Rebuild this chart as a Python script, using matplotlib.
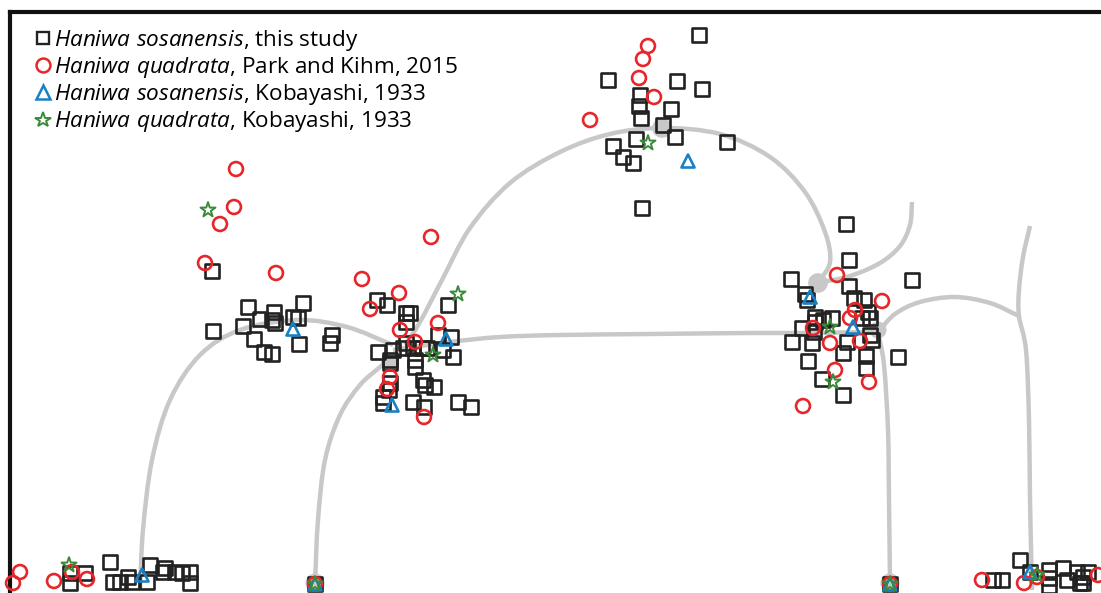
import matplotlib
matplotlib.use("Agg")
import numpy as np
import matplotlib.pyplot as plt
from matplotlib.lines import Line2D
from matplotlib.path import Path
from matplotlib.patches import PathPatch

plt.rcParams['mathtext.fontset'] = 'custom'
plt.rcParams['mathtext.rm'] = 'Open Sans'
plt.rcParams['mathtext.it'] = 'Open Sans:italic'
plt.rcParams['font.family'] = ['Open Sans', 'DejaVu Sans']

# ---- specimens (morphospace coordinates) ----
sq_x = [699, 608, 677, 702, 640, 639, 641, 671, 663, 675, 636, 613, 623, 633, 727, 642,
        212, 248, 274, 303, 260, 275, 272, 293, 298, 213, 243, 254, 264, 272, 299, 332, 330,
        377, 387, 406, 410, 406, 448, 438, 451, 378, 393, 403, 406, 413, 422, 427, 443, 453,
        390, 390, 415, 415, 390, 389, 383, 423, 425, 434, 413, 424, 458, 471, 383,
        846, 849, 791, 849, 912, 805, 807, 854, 864, 868, 815, 815, 832, 823, 862, 870, 802,
        814, 792, 812, 847, 870, 872, 843, 866, 866, 898, 808, 822, 843,
        70, 70, 85, 110, 113, 120, 128, 132, 150, 147, 165, 163, 175, 182, 190, 190,
        315, 890,
        993, 1002, 1020, 1030, 1049, 1049, 1049, 1063, 1067, 1077, 1083, 1088, 1083, 1080]
sq_y = [35, 80, 81, 89, 95, 106, 118, 109, 125, 137, 139, 146, 157, 163, 142, 208,
        271, 307, 312, 303, 319, 323, 320, 317, 318, 331, 326, 339, 352, 354, 344, 335, 343,
        300, 305, 313, 313, 322, 305, 335, 337, 352, 350, 348, 343, 348, 348, 348, 350, 357,
        360, 363, 360, 367, 383, 390, 397, 380, 385, 387, 402, 407, 402, 407, 403,
        224, 260, 279, 286, 280, 294, 300, 298, 300, 312, 317, 322, 318, 320, 318, 318, 328,
        332, 342, 343, 342, 335, 340, 353, 356, 368, 357, 361, 379, 395,
        583, 573, 573, 562, 582, 582, 577, 582, 565, 582, 568, 572, 572, 573, 572, 583,
        584, 584,
        580, 580, 560, 572, 570, 578, 586, 568, 580, 572, 577, 572, 583, 583]

ci_x = [648, 643, 639, 654, 590,
        236, 234, 220, 205, 276,
        431, 362, 399, 370, 438, 400, 415, 390, 387, 424,
        837, 882, 855, 850, 813, 830, 860, 835, 869, 803,
        20, 13, 54, 72, 87, 315, 890, 982, 1024, 1037, 1098]
ci_y = [46, 59, 78, 97, 120,
        169, 207, 224, 263, 273,
        237, 279, 293, 309, 323, 330, 342, 377, 389, 417,
        275, 301, 310, 318, 328, 343, 341, 370, 382, 406,
        572, 583, 581, 572, 579, 584, 584, 580, 583, 577, 575]

tr_x = [688, 293, 446, 392, 810, 853, 142, 315, 890, 1030]
tr_y = [161, 329, 339, 405, 297, 327, 575, 584, 584, 572]

st_x = [648, 208, 458, 433, 830, 833, 69, 1037, 315, 890]
st_y = [143, 210, 294, 355, 327, 382, 565, 575, 584, 584]

# ---- tree branches (gray) ----
branches = [
    [(140, 590), (143, 530), (152, 460), (170, 400), (200, 355), (240, 330), (297, 320),
     (347, 327), (393, 345)],
    [(315, 583), (318, 520), (325, 460), (340, 415), (360, 385), (380, 367), (393, 355)],
    [(405, 345), (420, 322), (442, 280), (470, 228), (510, 183), (560, 152), (610, 134),
     (662, 128), (720, 134), (770, 157), (805, 192), (825, 232), (830, 262), (818, 283)],
    [(393, 350), (450, 342), (500, 337), (560, 335), (650, 334), (750, 333), (800, 333), (878, 332)],
    [(878, 332), (884, 365), (888, 430), (889, 500), (890, 583)],
    [(818, 283), (850, 276), (880, 263), (900, 246), (910, 225), (912, 202)],
    [(878, 332), (895, 314), (920, 302), (955, 297), (990, 303), (1019, 316)],
    [(1030, 226), (1023, 257), (1019, 290), (1019, 316), (1026, 350), (1029, 420),
     (1030, 500), (1032, 590)],
]
node_x = [390, 662, 818, 878, 315, 890]
node_y = [362, 128, 283, 330, 583, 583]
node_s = [160, 200, 200, 150, 190, 190]

labels = [r"$\it{Haniwa\ sosanensis}$, this study",
          r"$\it{Haniwa\ quadrata}$, Park and Kihm, 2015",
          r"$\it{Haniwa\ sosanensis}$, Kobayashi, 1933",
          r"$\it{Haniwa\ quadrata}$, Kobayashi, 1933"]

SQ_C, CI_C, TR_C, ST_C = '#222222', '#e8262a', '#1a80c4', '#3a8a3a'
GRAY = '#c8c8c8'


def smooth_path(pts):
    """Catmull-Rom curve through the given points expressed as cubic Bezier segments."""
    p = np.asarray(pts, float)
    ext = np.vstack([2 * p[0] - p[1], p, 2 * p[-1] - p[-2]])
    verts = [p[0]]
    codes = [Path.MOVETO]
    for i in range(1, len(ext) - 2):
        p0, p1, p2, p3 = ext[i - 1], ext[i], ext[i + 1], ext[i + 2]
        c1 = p1 + (p2 - p0) / 6.0
        c2 = p2 - (p3 - p1) / 6.0
        verts += [c1, c2, p2]
        codes += [Path.CURVE4] * 3
    return Path(verts, codes)


W, H = 1101, 593
fig = plt.figure(figsize=(W / 100, H / 100), dpi=100)
ax = fig.add_axes([10 / W, 0, 1 - 10 / W, 1 - 12 / H])
ax.set_xlim(10, 1101)
ax.set_ylim(593, 12)

for br in branches:
    ax.add_patch(PathPatch(smooth_path(br), facecolor='none', edgecolor=GRAY,
                           lw=3.2, capstyle='butt', zorder=1))
ax.scatter(node_x, node_y, s=node_s, color=GRAY, zorder=1.5, linewidths=0, clip_on=False)

ms = 88
ax.scatter(sq_x, sq_y, marker='s', s=ms, facecolors='none', edgecolors=SQ_C,
           linewidths=1.9, zorder=3, clip_on=False)
ax.scatter(ci_x, ci_y, marker='o', s=ms + 12, facecolors='none', edgecolors=CI_C,
           linewidths=1.9, zorder=4, clip_on=False)
ax.scatter(tr_x, tr_y, marker='^', s=ms, facecolors='none', edgecolors=TR_C,
           linewidths=1.9, zorder=5, clip_on=False)
ax.scatter(st_x, st_y, marker='*', s=ms + 40, facecolors='none', edgecolors=ST_C,
           linewidths=1.4, zorder=6, clip_on=False)

handles = [
    Line2D([], [], marker='s', ls='none', mfc='none', mec=SQ_C, ms=9, mew=1.7),
    Line2D([], [], marker='o', ls='none', mfc='none', mec=CI_C, ms=10, mew=1.8),
    Line2D([], [], marker='^', ls='none', mfc='none', mec=TR_C, ms=9.5, mew=1.8),
    Line2D([], [], marker='*', ls='none', mfc='none', mec=ST_C, ms=11.5, mew=1.4),
]
leg = ax.legend(handles, labels, loc='upper left', bbox_to_anchor=(0.024, 0.973),
                frameon=False, fontsize=16.2, handlelength=0.6, handletextpad=0.2,
                labelspacing=0.1, borderaxespad=0, borderpad=0)

ax.set_xticks([])
ax.set_yticks([])
for s in ['right', 'bottom']:
    ax.spines[s].set_visible(False)
for s in ['left', 'top']:
    ax.spines[s].set_linewidth(3)
    ax.spines[s].set_color('#111111')

fig.savefig('out.png', dpi=100)
